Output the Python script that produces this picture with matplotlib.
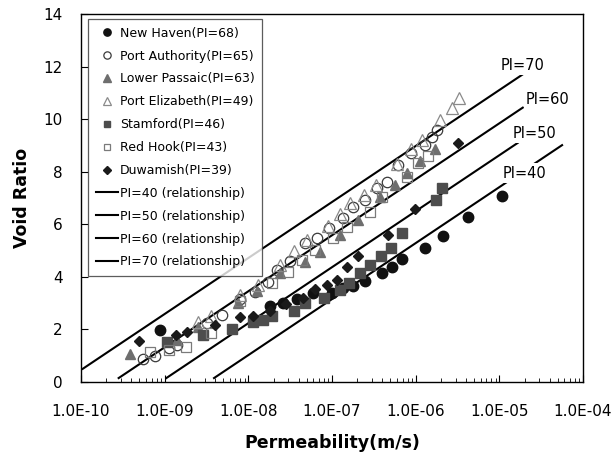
import numpy as np
import matplotlib
matplotlib.use("Agg")
import matplotlib.pyplot as plt
from matplotlib.ticker import FuncFormatter, FixedLocator, NullFormatter

plt.rcParams["font.family"] = ["DejaVu Sans"]

# log10 of permeability (m/s) and void ratio for each site
new_haven_logk = [-9.06, -7.74, -7.59, -7.42, -7.23, -7.00, -6.87, -6.75, -6.61,
                  -6.40, -6.28, -6.16, -5.89, -5.67, -5.38, -4.97]
new_haven_e = [1.98, 2.89, 3.00, 3.16, 3.38, 3.38, 3.57, 3.65, 3.84,
               4.14, 4.37, 4.68, 5.10, 5.55, 6.27, 7.07]

port_auth_logk = [-9.26, -9.12, -8.95, -8.85, -8.49, -8.32, -8.10, -7.92, -7.77, -7.66,
                  -7.50, -7.32, -7.18, -7.03, -6.87, -6.75, -6.61, -6.46, -6.34, -6.21,
                  -6.05, -5.89, -5.81, -5.75]
port_auth_e = [0.87, 0.99, 1.30, 1.40, 2.25, 2.55, 3.15, 3.42, 3.80, 4.26,
               4.60, 5.29, 5.48, 5.86, 6.24, 6.65, 6.92, 7.38, 7.60, 8.25,
               8.71, 9.01, 9.32, 9.58]

lower_passaic_logk = [-9.41, -8.85, -8.60, -8.12, -7.90, -7.62, -7.32, -7.14, -6.90,
                      -6.69, -6.43, -6.25, -6.10, -5.95, -5.77]
lower_passaic_e = [1.06, 1.60, 2.10, 3.00, 3.45, 4.15, 4.56, 4.94, 5.60,
                   6.16, 7.03, 7.50, 7.95, 8.40, 8.86]

port_eliz_logk = [-8.60, -8.45, -8.10, -7.88, -7.62, -7.45, -7.30, -7.05, -6.90,
                  -6.78, -6.62, -6.48, -6.22, -6.05, -5.93, -5.71, -5.56, -5.48]
port_eliz_e = [2.30, 2.50, 3.30, 3.70, 4.45, 5.00, 5.40, 5.95, 6.40,
               6.80, 7.10, 7.50, 8.30, 8.86, 9.20, 9.96, 10.42, 10.80]

stamford_logk = [-8.97, -8.54, -8.20, -7.95, -7.83, -7.72, -7.45, -7.32, -7.10,
                 -6.91, -6.80, -6.67, -6.55, -6.42, -6.30, -6.16, -5.76, -5.68]
stamford_e = [1.52, 1.79, 2.00, 2.30, 2.36, 2.50, 2.70, 3.00, 3.20,
              3.50, 3.75, 4.14, 4.45, 4.80, 5.10, 5.67, 6.92, 7.38]

red_hook_logk = [-9.18, -8.95, -8.75, -8.45, -8.10, -7.72, -7.53, -7.36, -7.20,
                 -6.99, -6.82, -6.55, -6.40, -6.10, -5.97, -5.85]
red_hook_e = [1.14, 1.20, 1.32, 1.85, 3.10, 3.76, 4.18, 4.64, 5.02,
              5.48, 5.90, 6.46, 7.03, 7.80, 8.33, 8.60]

duwamish_logk = [-9.31, -8.86, -8.73, -8.40, -8.10, -7.95, -7.74, -7.55, -7.35,
                 -7.20, -7.06, -6.94, -6.82, -6.69, -6.33, -6.01, -5.50]
duwamish_e = [1.56, 1.79, 1.90, 2.15, 2.47, 2.50, 2.70, 2.95, 3.19,
              3.55, 3.69, 3.88, 4.37, 4.79, 5.59, 6.58, 9.09]

# PI relationships: e = e_start + slope * (logk - logk_start)
rel_pi = [40, 50, 60, 70]
rel_logk_start = [-8.41, -8.98, -9.55, -9.98]
rel_logk_end = [-4.25, -4.78, -4.72, -4.70]
rel_e_start = [0.15, 0.15, 0.15, 0.50]
rel_slope = 2.13
rel_label_logk = [-4.70, -4.58, -4.42, -4.72]
rel_label_e = [7.95, 9.47, 10.75, 12.05]

x_ticks = [1e-10, 1e-9, 1e-8, 1e-7, 1e-6, 1e-5, 1e-4]
y_ticks = [0, 2, 4, 6, 8, 10, 12, 14]

fig = plt.figure(figsize=(6.14, 4.55), dpi=100)
ax = fig.add_axes([81 / 614, 1 - 382 / 455, 502 / 614, 368 / 455])

series = [
    ("New Haven(PI=68)", new_haven_logk, new_haven_e,
     dict(marker="o", ms=7.5, mfc="#111111", mec="#111111")),
    ("Port Authority(PI=65)", port_auth_logk, port_auth_e,
     dict(marker="o", ms=7.5, mfc="none", mec="#3a3a3a", mew=0.9)),
    ("Lower Passaic(PI=63)", lower_passaic_logk, lower_passaic_e,
     dict(marker="^", ms=7.5, mfc="#6e6e6e", mec="#6e6e6e")),
    ("Port Elizabeth(PI=49)", port_eliz_logk, port_eliz_e,
     dict(marker="^", ms=8, mfc="none", mec="#8a8a8a", mew=0.9)),
    ("Stamford(PI=46)", stamford_logk, stamford_e,
     dict(marker="s", ms=7, mfc="#4d4d4d", mec="#4d4d4d")),
    ("Red Hook(PI=43)", red_hook_logk, red_hook_e,
     dict(marker="s", ms=7, mfc="none", mec="#7a7a7a", mew=0.9)),
    ("Duwamish(PI=39)", duwamish_logk, duwamish_e,
     dict(marker="D", ms=5.5, mfc="#1a1a1a", mec="#1a1a1a")),
]

for label, lk, e, style in series:
    ax.plot(10.0 ** np.array(lk), e, ls="none", label=label, zorder=3, **style)

for i, pi in enumerate(rel_pi):
    lk = np.array([rel_logk_start[i], rel_logk_end[i]])
    e = rel_e_start[i] + rel_slope * (lk - rel_logk_start[i])
    ax.plot(10.0 ** lk, e, color="black", lw=1.5, label=f"PI={pi} (relationship)", zorder=2)
    ax.text(10.0 ** rel_label_logk[i], rel_label_e[i], f"PI={pi}", fontsize=10.5,
            ha="center", va="center", zorder=4,
            bbox=dict(facecolor="white", edgecolor="none", pad=1.5))

ax.set_xscale("log")
ax.set_xlim(x_ticks[0], x_ticks[-1])
ax.set_ylim(y_ticks[0], y_ticks[-1])
ax.set_yticks(y_ticks)
minor = [m * t for t in x_ticks[:-1] for m in range(2, 10)]
ax.xaxis.set_major_locator(FixedLocator(x_ticks))
ax.xaxis.set_minor_locator(FixedLocator(minor))
ax.xaxis.set_major_formatter(FuncFormatter(lambda v, p: f"{v:.1E}"))
ax.xaxis.set_minor_formatter(NullFormatter())
ax.tick_params(axis="x", which="major", direction="in", length=5, pad=16, labelsize=11)
ax.tick_params(axis="x", which="minor", direction="in", length=3)
ax.tick_params(axis="y", direction="in", length=5, pad=13, labelsize=11)
for s in ax.spines.values():
    s.set_linewidth(1.0)

ax.set_xlabel("Permeability(m/s)", fontsize=12.5, fontweight="bold")
ax.set_ylabel("Void Ratio", fontsize=12.5, fontweight="bold")
ax.xaxis.set_label_coords(0.5, -0.141)
ax.yaxis.set_label_coords(-0.10, 0.5)

leg = ax.legend(loc="upper left", bbox_to_anchor=(0.014, 0.986), borderaxespad=0,
                fontsize=9, frameon=True, fancybox=False, edgecolor="#333333",
                markerscale=0.7, handlelength=1.8, handletextpad=0.15,
                labelspacing=0.79, borderpad=0.6)
leg.get_frame().set_linewidth(0.9)

fig.savefig("out.png", dpi=100)
